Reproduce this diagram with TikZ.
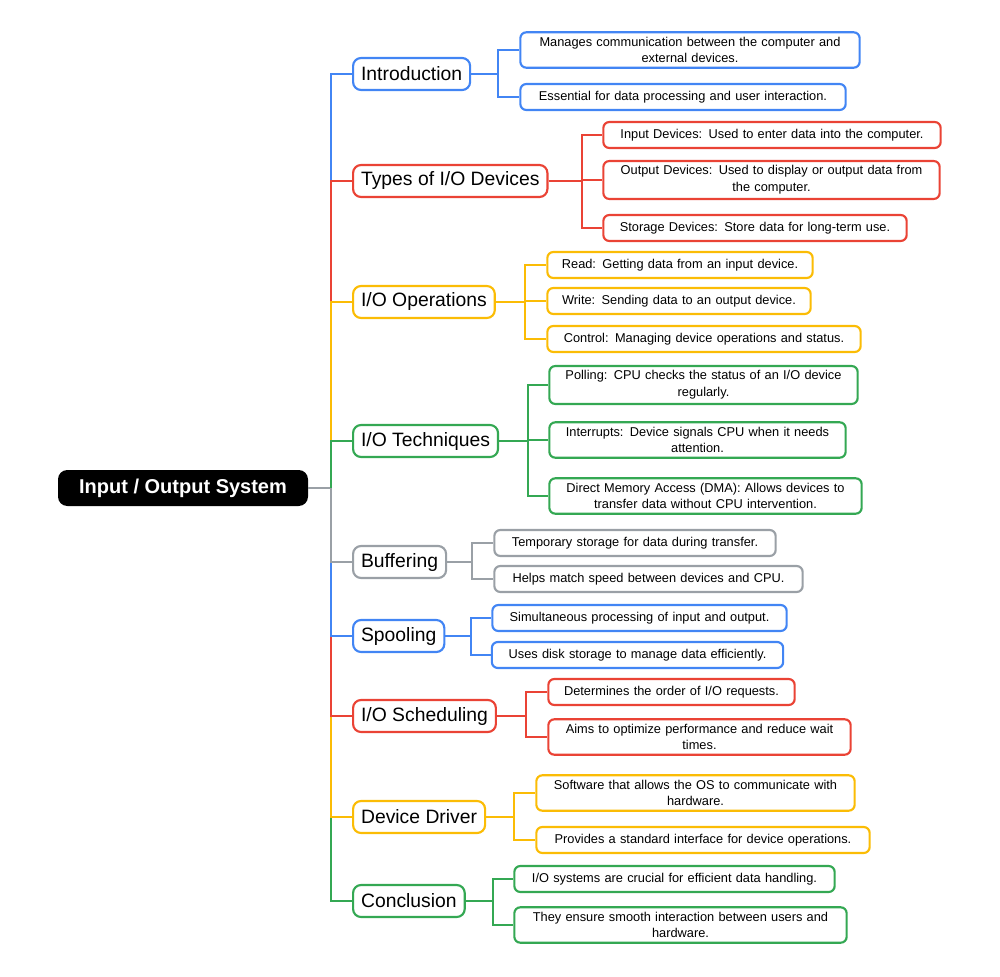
\documentclass[tikz,border=0pt]{standalone}
\usepackage{fontspec}
\setmainfont{Liberation Sans}
\definecolor{cb}{HTML}{4285F4}
\definecolor{cr}{HTML}{EA4335}
\definecolor{cy}{HTML}{FBBC05}
\definecolor{cg}{HTML}{34A853}
\definecolor{cgr}{HTML}{9AA0A6}
\begin{document}
\begin{tikzpicture}[x=0.75pt,y=-0.75pt,
  lnk/.style={line width=1.6pt},
  leaf/.style={draw,fill=white,line width=1.6pt,rounded corners=4.5pt,align=center,inner xsep=5pt,inner ysep=3.5pt,font=\fontsize{9.6}{12.5}\selectfont,minimum height=19.5pt},
  br/.style={draw,fill=white,line width=1.6pt,rounded corners=6pt,anchor=west,inner xsep=6pt,minimum height=24pt,font=\fontsize{14.5}{17}\selectfont},
]
\useasboundingbox (0,0) rectangle (1000,977);
\node[fill=black,text=white,rounded corners=7pt,minimum width=187.5pt,minimum height=27pt,font=\fontsize{15}{18}\selectfont\bfseries] (root) at (183,488) {Input / Output System};
\coordinate (T) at (331,488);
% branches
\node[br,draw=cb] (B1) at (352,74) {Introduction};
\node[br,draw=cr] (B2) at (352,181) {Types of I/O Devices};
\node[br,draw=cy] (B3) at (352,302) {I/O Operations};
\node[br,draw=cg] (B4) at (352,441) {I/O Techniques};
\node[br,draw=cgr] (B5) at (352,562) {Buffering};
\node[br,draw=cb] (B6) at (352,636) {Spooling};
\node[br,draw=cr] (B7) at (352,716) {I/O Scheduling};
\node[br,draw=cy] (B8) at (352,817) {Device Driver};
\node[br,draw=cg] (B9) at (352,901) {Conclusion};
% trunk
\draw[lnk,cgr] (root.east) -- (T);
\draw[lnk,cb] (T) |- (B1.west);
\draw[lnk,cr] (T) |- (B2.west);
\draw[lnk,cy] (T) |- (B3.west);
\draw[lnk,cg] (T) |- (B4.west);
\draw[lnk,cg] (T) |- (B9.west);
\draw[lnk,cy] (T) |- (B8.west);
\draw[lnk,cr] (T) |- (B7.west);
\draw[lnk,cb] (T) |- (B6.west);
\draw[lnk,cgr] (T) |- (B5.west);
% leaves
\node[leaf,draw=cb,text width=244.5pt] (i1) at (690,50) {Manages communication between the computer and\\external devices.};
\node[leaf,draw=cb,text width=234pt] (i2) at (683,97) {Essential for data processing and user interaction.};
\node[leaf,draw=cr,text width=243pt] (t1) at (772,135) {Input Devices: Used to enter data into the computer.};
\node[leaf,draw=cr,text width=242.25pt] (t2) at (771.5,180) {Output Devices: Used to display or output data from\\the computer.};
\node[leaf,draw=cr,text width=217.5pt] (t3) at (755,228) {Storage Devices: Store data for long-term use.};
\node[leaf,draw=cy,text width=189pt] (o1) at (680,265) {Read: Getting data from an input device.};
\node[leaf,draw=cy,text width=187.5pt] (o2) at (679,301) {Write: Sending data to an output device.};
\node[leaf,draw=cy,text width=225pt] (o3) at (704,339) {Control: Managing device operations and status.};
\node[leaf,draw=cg,text width=221.25pt] (q1) at (703.5,385) {Polling: CPU checks the status of an I/O device\\regularly.};
\node[leaf,draw=cg,text width=212.25pt] (q2) at (697.5,440) {Interrupts: Device signals CPU when it needs\\attention.};
\node[leaf,draw=cg,text width=224.25pt] (q3) at (705.5,496) {Direct Memory Access (DMA): Allows devices to\\transfer data without CPU intervention.};
\node[leaf,draw=cgr,text width=201pt] (b1) at (635,543) {Temporary storage for data during transfer.};
\node[leaf,draw=cgr,text width=221.25pt] (b2) at (648.5,579) {Helps match speed between devices and CPU.};
\node[leaf,draw=cb,text width=210.75pt] (s1) at (639.5,618) {Simultaneous processing of input and output.};
\node[leaf,draw=cb,text width=208.5pt] (s2) at (637.5,655) {Uses disk storage to manage data efficiently.};
\node[leaf,draw=cr,text width=174.75pt] (h1) at (671.5,692) {Determines the order of I/O requests.};
\node[leaf,draw=cr,text width=216.75pt] (h2) at (699.5,737) {Aims to optimize performance and reduce wait\\times.};
\node[leaf,draw=cy,text width=228.75pt] (d1) at (695.5,793) {Software that allows the OS to communicate with\\hardware.};
\node[leaf,draw=cy,text width=240pt] (d2) at (703,840) {Provides a standard interface for device operations.};
\node[leaf,draw=cg,text width=230.25pt] (c1) at (674.5,879) {I/O systems are crucial for efficient data handling.};
\node[leaf,draw=cg,text width=239.25pt] (c2) at (680.5,925) {They ensure smooth interaction between users and\\hardware.};
% junctions
\coordinate (J1) at (498,0); \coordinate (J2) at (582,0); \coordinate (J3) at (525,0);
\coordinate (J4) at (528,0); \coordinate (J5) at (472,0); \coordinate (J6) at (471,0);
\coordinate (J7) at (526,0); \coordinate (J8) at (514,0); \coordinate (J9) at (493,0);
\begin{scope}[on background layer/.style={}]
\foreach \b/\j/\c/\ls in {B1/J1/cb/{i1,i2},B2/J2/cr/{t1,t2,t3},B3/J3/cy/{o1,o2,o3},B4/J4/cg/{q1,q2,q3},B5/J5/cgr/{b1,b2},B6/J6/cb/{s1,s2},B7/J7/cr/{h1,h2},B8/J8/cy/{d1,d2},B9/J9/cg/{c1,c2}}{
  \foreach \l in \ls {
    \draw[lnk,\c] (\b.east) -- (\b.east -| \j) |- (\l.west);
  }
}
\end{scope}
\end{tikzpicture}
\end{document}
